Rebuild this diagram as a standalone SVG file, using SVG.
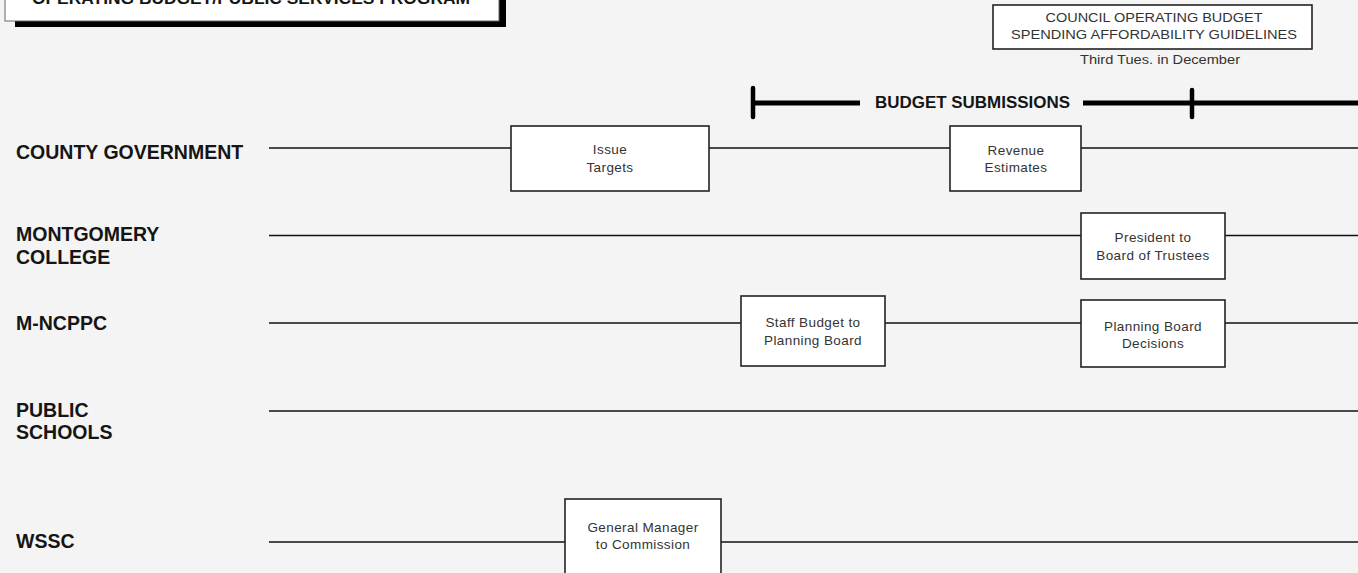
<svg xmlns="http://www.w3.org/2000/svg" width="1358" height="573" viewBox="0 0 1358 573">
<style>
.lane{font-family:"Liberation Sans",Arial,sans-serif;font-weight:bold;font-size:19.5px;fill:#151515}
.box{fill:#ffffff;stroke:#222;stroke-width:1.6}
.bt{font-family:"Liberation Sans",Arial,sans-serif;font-size:13.5px;fill:#333;text-anchor:middle;letter-spacing:0.4px}
.line{stroke:#111;stroke-width:1.4;fill:none}
.bar{stroke:#000;stroke-width:5;fill:none}
</style>
<rect x="0" y="0" width="1358" height="573" fill="#f4f4f4"/>
<g id="title">
<rect x="15" y="-34" width="491" height="61" fill="#000"/>
<rect x="5" y="-40" width="494" height="61" fill="#fff" stroke="#666" stroke-width="1"/>
<text x="32" y="4" class="lane" font-size="17" textLength="438" lengthAdjust="spacingAndGlyphs" style="font-size:17px">OPERATING BUDGET/PUBLIC SERVICES PROGRAM</text>
</g>
<g id="connectors">
<line class="line" x1="269" y1="148" x2="1358" y2="148"/>
<line class="line" x1="269" y1="235.5" x2="1358" y2="235.5"/>
<line class="line" x1="269" y1="323" x2="1358" y2="323"/>
<line class="line" x1="269" y1="411" x2="1358" y2="411"/>
<line class="line" x1="269" y1="542" x2="1358" y2="542"/>
</g>
<g id="lane-labels">
<text class="lane" x="16" y="159">COUNTY GOVERNMENT</text>
<text class="lane" x="16" y="241">MONTGOMERY</text>
<text class="lane" x="16" y="264">COLLEGE</text>
<text class="lane" x="16" y="330">M-NCPPC</text>
<text class="lane" x="16" y="417">PUBLIC</text>
<text class="lane" x="16" y="439">SCHOOLS</text>
<text class="lane" x="16" y="548">WSSC</text>
</g>
<g id="council-guidelines">
<rect class="box" x="993" y="5" width="319" height="44"/>
<text x="1154" y="22" class="bt" style="font-size:12.5px;letter-spacing:0" textLength="217" lengthAdjust="spacingAndGlyphs">COUNCIL OPERATING BUDGET</text>
<text x="1154" y="39" class="bt" style="font-size:12.5px;letter-spacing:0" textLength="286" lengthAdjust="spacingAndGlyphs">SPENDING AFFORDABILITY GUIDELINES</text>
<text x="1160" y="64" class="bt" style="font-size:12px;letter-spacing:0" textLength="160" lengthAdjust="spacingAndGlyphs">Third Tues. in December</text>
</g>
<g id="budget-submissions">
<line class="bar" x1="752" y1="103" x2="860" y2="103"/>
<line class="bar" x1="1083" y1="103" x2="1358" y2="103"/>
<line x1="753" y1="88" x2="753" y2="117" stroke="#000" stroke-width="4.5" stroke-linecap="round"/>
<line x1="1192" y1="90" x2="1192" y2="117" stroke="#000" stroke-width="4.5" stroke-linecap="round"/>
<text x="875" y="108" class="lane" style="font-size:16px" textLength="195" lengthAdjust="spacingAndGlyphs">BUDGET SUBMISSIONS</text>
</g>
<g id="issue-targets">
<rect class="box" x="511" y="126" width="198" height="65"/>
<text class="bt" x="610" y="154">Issue</text>
<text class="bt" x="610" y="172">Targets</text>
</g>
<g id="revenue-estimates">
<rect class="box" x="950" y="126" width="131" height="65"/>
<text class="bt" x="1016" y="155">Revenue</text>
<text class="bt" x="1016" y="172">Estimates</text>
</g>
<g id="president-trustees">
<rect class="box" x="1081" y="213" width="144" height="66"/>
<text class="bt" x="1153" y="242">President to</text>
<text class="bt" x="1153" y="260">Board of Trustees</text>
</g>
<g id="staff-budget">
<rect class="box" x="741" y="296" width="144" height="70"/>
<text class="bt" x="813" y="327">Staff Budget to</text>
<text class="bt" x="813" y="345">Planning Board</text>
</g>
<g id="planning-decisions">
<rect class="box" x="1081" y="300" width="144" height="67"/>
<text class="bt" x="1153" y="331">Planning Board</text>
<text class="bt" x="1153" y="348">Decisions</text>
</g>
<g id="general-manager">
<rect class="box" x="565" y="499" width="156" height="90"/>
<text class="bt" x="643" y="532">General Manager</text>
<text class="bt" x="643" y="549">to Commission</text>
</g>
</svg>
